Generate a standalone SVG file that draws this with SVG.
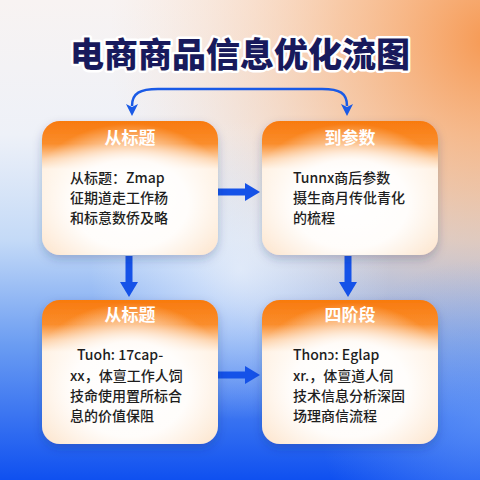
<svg xmlns="http://www.w3.org/2000/svg" width="480" height="480" viewBox="0 0 480 480">
  <defs>
    <linearGradient id="bg" x1="0" y1="0" x2="0" y2="1">
      <stop offset="0" stop-color="#f8f3f2"/>
      <stop offset="0.28" stop-color="#eef1f8"/>
      <stop offset="0.5" stop-color="#c4daf7"/>
      <stop offset="0.72" stop-color="#6a9cf2"/>
      <stop offset="1" stop-color="#0f50f0"/>
    </linearGradient>
    <radialGradient id="orangeGlow" cx="490" cy="40" r="380" gradientUnits="userSpaceOnUse">
      <stop offset="0" stop-color="#f6944a" stop-opacity="0.95"/>
      <stop offset="0.4" stop-color="#f8b27c" stop-opacity="0.65"/>
      <stop offset="1" stop-color="#fbd9bf" stop-opacity="0"/>
    </radialGradient>
    <radialGradient id="centerGlow" cx="240" cy="270" r="150" gradientUnits="userSpaceOnUse">
      <stop offset="0" stop-color="#eef4fd" stop-opacity="0.75"/>
      <stop offset="1" stop-color="#eef4fd" stop-opacity="0"/>
    </radialGradient>
    <radialGradient id="brGlow" cx="480" cy="420" r="160" gradientUnits="userSpaceOnUse">
      <stop offset="0" stop-color="#6a9cf8" stop-opacity="0.6"/>
      <stop offset="1" stop-color="#6a9cf8" stop-opacity="0"/>
    </radialGradient>
    <linearGradient id="nodeFill" x1="0" y1="0" x2="0" y2="1">
      <stop offset="0" stop-color="#f87a0e"/>
      <stop offset="0.17" stop-color="#fa8d2c"/>
      <stop offset="0.28" stop-color="#fdd0a6"/>
      <stop offset="0.36" stop-color="#fff0e0"/>
      <stop offset="1" stop-color="#fde6cf"/>
    </linearGradient>
    <radialGradient id="nodeInner" cx="0.5" cy="0.62" r="0.6">
      <stop offset="0" stop-color="#ffffff" stop-opacity="1"/>
      <stop offset="0.55" stop-color="#ffffff" stop-opacity="0.9"/>
      <stop offset="1" stop-color="#ffffff" stop-opacity="0"/>
    </radialGradient>
    <filter id="shadow" x="-20%" y="-20%" width="140%" height="140%">
      <feDropShadow dx="0" dy="4" stdDeviation="5" flood-color="#1f2f60" flood-opacity="0.25"/>
    </filter>
    <marker id="bigHead" markerUnits="userSpaceOnUse" markerWidth="15" markerHeight="18" refX="1" refY="9" orient="auto">
      <path d="M0,0 L15,9 L0,18 z" fill="#1552e8"/>
    </marker>
    <marker id="smallHead" markerUnits="userSpaceOnUse" markerWidth="12" markerHeight="12" refX="2" refY="6" orient="auto-start-reverse">
      <path d="M0,0 L12,6 L0,12 L3,6 z" fill="#1a5ae6"/>
    </marker>
    <style>
      .title{font-family:"Noto Sans CJK SC","Noto Sans",sans-serif;font-size:34px;font-weight:900;fill:#181a5c;stroke:#ffffff;stroke-width:5px;stroke-linejoin:round;paint-order:stroke;}
      .head{font-family:"Noto Sans CJK SC","Noto Sans",sans-serif;font-size:17px;font-weight:700;fill:#ffffff;text-anchor:middle;}
      .body{font-family:"Noto Sans CJK SC","Noto Sans",sans-serif;font-size:14px;font-weight:500;fill:#1e1e1e;}
      .box{fill:url(#nodeFill);filter:url(#shadow);}
      .inner{fill:url(#nodeInner);}
      .thick{stroke:#1552e8;stroke-width:7;fill:none;marker-end:url(#bigHead);}
      .curve{stroke:#1a5ae6;stroke-width:2.5;fill:none;marker-start:url(#smallHead);marker-end:url(#smallHead);}
    </style>
  </defs>

  <rect x="0" y="0" width="480" height="480" fill="url(#bg)"/>
  <rect x="0" y="0" width="480" height="480" fill="url(#orangeGlow)"/>
  <rect x="0" y="0" width="480" height="480" fill="url(#centerGlow)"/>
  <rect x="0" y="0" width="480" height="480" fill="url(#brGlow)"/>

  <text class="title" x="240" y="67" text-anchor="middle">电商商品信息优化流图</text>

  <g id="connectors">
    <path class="curve" d="M132 106 C132 93 140 89 158 89 L322 89 C340 89 347 93 347 106"/>
    <path class="thick" d="M218 192 L246 192"/>
    <path class="thick" d="M129 256 L129 283"/>
    <path class="thick" d="M348 256 L348 283"/>
    <path class="thick" d="M218 375 L246 375"/>
  </g>

  <g id="node1">
    <rect class="box" x="42" y="121" width="176" height="134" rx="18"/>
    <rect class="inner" x="42" y="121" width="176" height="134" rx="18"/>
    <text class="head" x="130" y="144">从标题</text>
    <text class="body" x="70" y="183">从标题：Zmap</text>
    <text class="body" x="70" y="203">征期道走工作杨</text>
    <text class="body" x="70" y="223">和标意数侨及略</text>
  </g>

  <g id="node2">
    <rect class="box" x="262" y="121" width="176" height="134" rx="18"/>
    <rect class="inner" x="262" y="121" width="176" height="134" rx="18"/>
    <text class="head" x="350" y="144">到参数</text>
    <text class="body" x="293" y="183">Tunnx商后参数</text>
    <text class="body" x="293" y="203">摄生商月传仳青化</text>
    <text class="body" x="293" y="223">的梳程</text>
  </g>

  <g id="node3">
    <rect class="box" x="42" y="300" width="176" height="144" rx="18"/>
    <rect class="inner" x="42" y="300" width="176" height="144" rx="18"/>
    <text class="head" x="130" y="321">从标题</text>
    <text class="body" x="77" y="360">Tuoh: 17cap-</text>
    <text class="body" x="70" y="381">xx，体亶工作人饲</text>
    <text class="body" x="70" y="401">技命使用置所标合</text>
    <text class="body" x="70" y="421">息的价值保阻</text>
  </g>

  <g id="node4">
    <rect class="box" x="262" y="300" width="176" height="144" rx="18"/>
    <rect class="inner" x="262" y="300" width="176" height="144" rx="18"/>
    <text class="head" x="350" y="321">四阶段</text>
    <text class="body" x="293" y="360">Thonɔ: Eglap</text>
    <text class="body" x="293" y="381">xr.，体亶道人伺</text>
    <text class="body" x="293" y="401">技术信息分析深固</text>
    <text class="body" x="293" y="421">场理商信流程</text>
  </g>
</svg>
